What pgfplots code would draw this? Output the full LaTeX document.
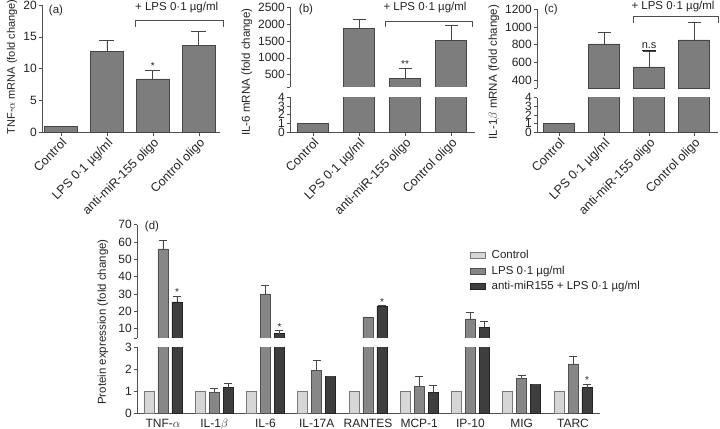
\documentclass[border=0pt]{standalone}
\usepackage{pgfplots}
\pgfplotsset{compat=1.18}
\usepackage{fontspec}
\setmainfont{Liberation Sans}
\definecolor{barfill}{RGB}{125,125,125}
\definecolor{baredge}{RGB}{70,70,70}
\definecolor{cfill}{RGB}{214,214,214}
\definecolor{cedge}{RGB}{120,120,120}
\definecolor{lfill}{RGB}{135,135,135}
\definecolor{ledge}{RGB}{80,80,80}
\definecolor{afill}{RGB}{62,62,62}
\definecolor{aedge}{RGB}{35,35,35}
\definecolor{axcol}{RGB}{80,80,80}
\definecolor{txt}{RGB}{35,35,35}
\newcommand{\fs}[1]{\fontsize{#1}{#1}\selectfont}
\pgfplotsset{
  base/.style={
    scale only axis, clip=true,
    axis line style={axcol, line width=0.6pt},
    x axis line style={-}, y axis line style={-},
    tick style={axcol, line width=0.6pt},
    tick align=outside, major tick length=3.5bp,
    ticklabel style={font=\fs{12bp}, text=txt},
    /pgf/number format/assume math mode=true,
    /pgf/number format/1000 sep={},
    yticklabel style={inner sep=1.5bp},
  },
  lowax/.style={base, axis x line*=bottom, axis y line*=left, restrict y to domain*=0:6},
  upax/.style={base, axis x line=none, axis y line*=left, xtick=\empty},
  mrnaticks/.style={xtick={0,1,2,3},
    xticklabels={Control, LPS 0·1 µg/ml, anti-miR-155 oligo, Control oligo},
    xticklabel style={rotate=45, anchor=north east, font=\fs{12.5bp}, inner sep=1bp}},
  gbar/.style={ybar, bar shift=0pt, fill=barfill, draw=baredge, line width=0.6pt},
  cbar/.style={ybar, bar shift=0pt, fill=cfill, draw=cedge, line width=0.6pt},
  lbar/.style={ybar, bar shift=0pt, fill=lfill, draw=ledge, line width=0.6pt},
  abar/.style={ybar, bar shift=0pt, fill=afill, draw=aedge, line width=0.6pt},
  gerr/.style={error bars/.cd, y dir=plus, y explicit,
     error bar style={baredge, line width=0.7pt},
     error mark options={baredge, line width=0.7pt, rotate=90, mark size=#1}},
}
\begin{document}
\begin{tikzpicture}
\useasboundingbox (0,0) rectangle (720bp,429bp);
% ---------------- (a)
\begin{axis}[base, axis x line*=bottom, axis y line*=left, mrnaticks, at={(42bp,296.7bp)}, anchor=south west,
  width=178bp, height=127.3bp, xmin=-0.41, xmax=3.46, ymin=0, ymax=20,
  ytick={0,5,...,20}, bar width=0.7]
\addplot[gbar] coordinates {(0,1)};
\addplot[gbar, gerr=7.5bp] coordinates {(1,12.77)+-(0,1.73) (2,8.4)+-(0,1.3) (3,13.6)+-(0,2.2)};
\node[font=\fs{10bp}, text=txt, anchor=south, inner sep=0.5bp] at (axis cs:2,9.7) {*};
\end{axis}
% ---------------- (b)
\begin{axis}[lowax, mrnaticks, at={(290bp,296.7bp)}, anchor=south west,
  width=185bp, height=35bp, xmin=-0.5, xmax=3.52, ymin=0, ymax=4,
  ytick={0,...,4}, bar width=0.67]
\addplot[gbar] coordinates {(0,1) (1,1870) (2,381) (3,1509)};
\end{axis}
\begin{axis}[upax, at={(290bp,342bp)}, anchor=south west,
  width=185bp, height=79.7bp, xmin=-0.5, xmax=3.52, ymin=135, ymax=2500,
  ytick={500,1000,...,2500}, extra y ticks={135}, extra y tick labels={}, bar width=0.67]
\addplot[gbar, gerr=6.5bp] coordinates {(1,1870)+-(0,270) (2,381)+-(0,318) (3,1509)+-(0,457)};
\node[font=\fs{10bp}, text=txt, anchor=south, inner sep=0.5bp] at (axis cs:2,699) {**};
\end{axis}
% ---------------- (c)
\begin{axis}[lowax, mrnaticks, at={(537bp,296.7bp)}, anchor=south west,
  width=181bp, height=34.6bp, xmin=-0.489, xmax=3.53, ymin=0, ymax=4,
  ytick={0,...,4}, bar width=0.69]
\addplot[gbar] coordinates {(0,1) (1,808) (2,548) (3,853)};
\end{axis}
\begin{axis}[upax, at={(537bp,340.7bp)}, anchor=south west,
  width=181bp, height=79bp, xmin=-0.489, xmax=3.53, ymin=306, ymax=1200,
  ytick={400,600,...,1200}, extra y ticks={306}, extra y tick labels={}, bar width=0.69]
\addplot[gbar, gerr=6.5bp] coordinates {(1,808)+-(0,136) (2,548)+-(0,172) (3,853)+-(0,196)};
\node[font=\fs{11bp}, text=txt, anchor=south, inner sep=0pt, yshift=0.5bp] at (axis cs:2,720) {\underline{n.s}};
\end{axis}
% ---------------- (d) lower
\begin{axis}[lowax, at={(137bp,15.3bp)}, anchor=south west,
  width=463bp, height=66.4bp, xmin=-0.507, xmax=8.527, ymin=0, ymax=3,
  ytick={0,1,2,3}, bar width=0.195,
  xtick={0,...,8},
  xticklabels={TNF-$\alpha$, IL-1$\beta$, IL-6, IL-17A, RANTES, MCP-1, IP-10, MIG, TARC},
  xticklabel style={inner sep=0pt, yshift=-2bp},
  xtick style={draw=none}]
\addplot[cbar] coordinates {(-0.273,1) (0.727,1) (1.727,1) (2.727,1) (3.727,1) (4.727,1) (5.727,1) (6.727,1) (7.727,1)};
\addplot[lbar] coordinates {(0,56) (2,30) (4,16.4) (6,15.6)};
\addplot[abar] coordinates {(0.273,25.4) (2.273,7.1) (4.273,23.0) (6.273,10.8)};
\addplot[lbar, gerr=4bp] coordinates {(1,0.98)+-(0,0.17) (3,1.95)+-(0,0.48) (5,1.25)+-(0,0.42) (7,1.6)+-(0,0.13) (8,2.25)+-(0,0.33)};
\addplot[abar, gerr=4bp] coordinates {(1.273,1.18)+-(0,0.19) (3.273,1.67)+-(0,0.02) (5.273,0.95)+-(0,0.33) (7.273,1.31)+-(0,0.03) (8.273,1.18)+-(0,0.15)};
\node[font=\fs{10bp}, text=txt, anchor=south, inner sep=0.5bp] at (axis cs:8.273,1.33) {*};
\end{axis}
% ---------------- (d) upper
\begin{axis}[upax, at={(137bp,91bp)}, anchor=south west,
  width=463bp, height=113.3bp, xmin=-0.507, xmax=8.527, ymin=4.6, ymax=70,
  ytick={10,20,...,70}, extra y ticks={4.6}, extra y tick labels={}, bar width=0.195,
  legend style={at={(0.719,0.785)}, anchor=north west, draw=none, fill=none,
    font=\fs{11.5bp}, text=txt, row sep=2.5bp, inner sep=0pt,
    nodes={inner sep=1bp, text height=8.5bp, text depth=2.5bp},
    /tikz/every odd column/.append style={column sep=5bp}},
  legend cell align=left,
  legend image code/.code={\draw[#1,/tikz/.cd,line width=0.6pt] (0bp,-3bp) rectangle (15bp,3bp);}]
\addlegendimage{cbar}
\addlegendentry{Control}
\addlegendimage{lbar}
\addlegendentry{LPS 0·1 µg/ml}
\addlegendimage{abar}
\addlegendentry{anti-miR155 + LPS 0·1 µg/ml}
\addplot[lbar, forget plot, gerr=4bp] coordinates {(0,56)+-(0,4.8) (2,30)+-(0,5) (4,16.4)+-(0,0.2) (6,15.6)+-(0,3.8)};
\addplot[abar, forget plot, gerr=4bp] coordinates {(0.273,25.4)+-(0,3.3) (2.273,7.1)+-(0,1.7) (4.273,23.0)+-(0,0.2) (6.273,10.8)+-(0,3.2)};
\node[font=\fs{10bp}, text=txt, anchor=south, inner sep=0.5bp] at (axis cs:0.273,28.7) {*};
\node[font=\fs{10bp}, text=txt, anchor=south, inner sep=0.5bp] at (axis cs:2.273,8.8) {*};
\node[font=\fs{10bp}, text=txt, anchor=south, inner sep=0.5bp] at (axis cs:4.273,23.2) {*};
\end{axis}
% ---------------- annotations
\begin{scope}[font=\fs{11.5bp}, text=txt]
\node[rotate=90, font=\fs{11bp}] at (12bp,362bp) {TNF-$\alpha$ mRNA (fold change)};
\node[rotate=90] at (247bp,357bp) {IL-6 mRNA (fold change)};
\node[rotate=90] at (494bp,357bp) {IL-1$\beta$ mRNA (fold change)};
\node[rotate=90] at (103bp,107bp) {Protein expression (fold change)};
\node at (56bp,418bp) {(a)};
\node at (306bp,419bp) {(b)};
\node at (551bp,419bp) {(c)};
\node at (152bp,202bp) {(d)};
\node at (176.7bp,421bp) {+ LPS 0·1 µg/ml};
\node at (425bp,421bp) {+ LPS 0·1 µg/ml};
\node at (673bp,422bp) {+ LPS 0·1 µg/ml};
\end{scope}
\begin{scope}[draw=axcol, line width=0.6pt]
\draw (135bp,402bp) -- (135bp,409bp) -- (223bp,409bp) -- (223bp,402bp);
\draw (385bp,402bp) -- (385bp,408bp) -- (472bp,408bp) -- (472bp,402bp);
\draw (633bp,406bp) -- (633bp,413bp) -- (718bp,413bp) -- (718bp,406bp);
\end{scope}
\end{tikzpicture}
\end{document}
